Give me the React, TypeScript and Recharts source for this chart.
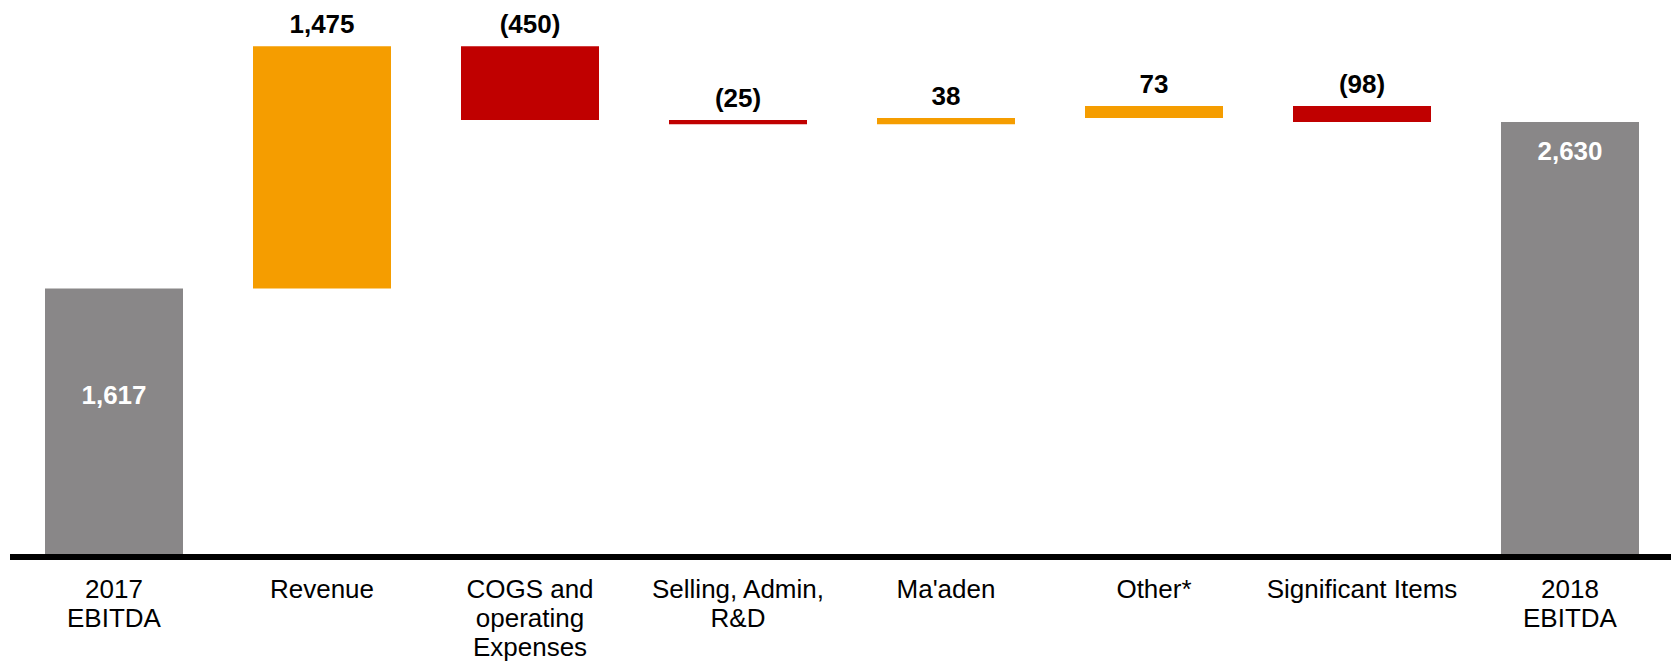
import React from "react";
import { BarChart, Bar, XAxis, YAxis, Cell, LabelList, ReferenceLine } from "recharts";

const categories = [
  "2017\nEBITDA",
  "Revenue",
  "COGS and\noperating\nExpenses",
  "Selling, Admin,\nR&D",
  "Ma'aden",
  "Other*",
  "Significant Items",
  "2018\nEBITDA",
];
const values = [1617, 1475, -450, -25, 38, 73, -98, 2630];
const kinds = ["total", "delta", "delta", "delta", "delta", "delta", "delta", "total"];

const GREY = "#898788";
const ORANGE = "#F59D00";
const RED = "#C00000";
const FONT = "'Liberation Sans', Arial, Helvetica, sans-serif";

function buildData() {
  let running = 0;
  return categories.map((name, i) => {
    const v = values[i];
    let low: number;
    let high: number;
    if (kinds[i] === "total") {
      low = 0;
      high = v;
      running = v;
    } else {
      const next = running + v;
      low = Math.min(running, next);
      high = Math.max(running, next);
      running = next;
    }
    return { name, value: v, kind: kinds[i], range: [low, high] };
  });
}
const data = buildData();

function fmt(v: number) {
  const s = Math.abs(v).toLocaleString("en-US");
  return v < 0 ? `(${s})` : s;
}

const ValueLabel = (props: any) => {
  const { x, y, width, height, index } = props;
  const d = data[index];
  const cx = Number(x) + Number(width) / 2;
  const top = Number(y);
  const h = Number(height);
  if (d.kind === "total") {
    const baseline = index === 0 ? top + h * 0.434 : top + 38;
    return (
      <text x={cx} y={baseline} textAnchor="middle" fill="#fff" fontFamily={FONT} fontWeight="bold" fontSize={26}>
        {fmt(d.value)}
      </text>
    );
  }
  return (
    <text x={cx} y={top - 13} textAnchor="middle" fill="#000" fontFamily={FONT} fontWeight="bold" fontSize={26}>
      {fmt(d.value)}
    </text>
  );
};

const CatTick = (props: any) => {
  const { x, y, payload } = props;
  const lines = String(payload.value).split("\n");
  return (
    <text x={x} y={Number(y) + 44} textAnchor="middle" fill="#000" fontFamily={FONT} fontSize={26}>
      {lines.map((l, i) => (
        <tspan key={i} x={x} dy={i === 0 ? 0 : 29}>
          {l}
        </tspan>
      ))}
    </text>
  );
};

export default function App() {
  return (
    <div style={{ position: "absolute", left: 0, top: 0, width: 1671, height: 664, overflow: "hidden", background: "#fff" }}>
      <BarChart
        width={1674}
        height={664}
        data={data}
        margin={{ top: 12, right: 0, left: 10, bottom: 0 }}
        barCategoryGap={35}
      >
        <XAxis
          dataKey="name"
          axisLine={false}
          tickLine={false}
          tickSize={0}
          tickMargin={0}
          height={110}
          interval={0}
          tick={<CatTick />}
        />
        <YAxis hide domain={[0, 3300]} />
        <Bar dataKey="range" isAnimationActive={false}>
          {data.map((d, i) => (
            <Cell key={i} fill={d.kind === "total" ? GREY : d.value >= 0 ? ORANGE : RED} />
          ))}
          <LabelList dataKey="range" content={<ValueLabel />} />
        </Bar>
        <ReferenceLine y={-18} stroke="#000" strokeWidth={6} ifOverflow="visible" />
      </BarChart>
    </div>
  );
}
